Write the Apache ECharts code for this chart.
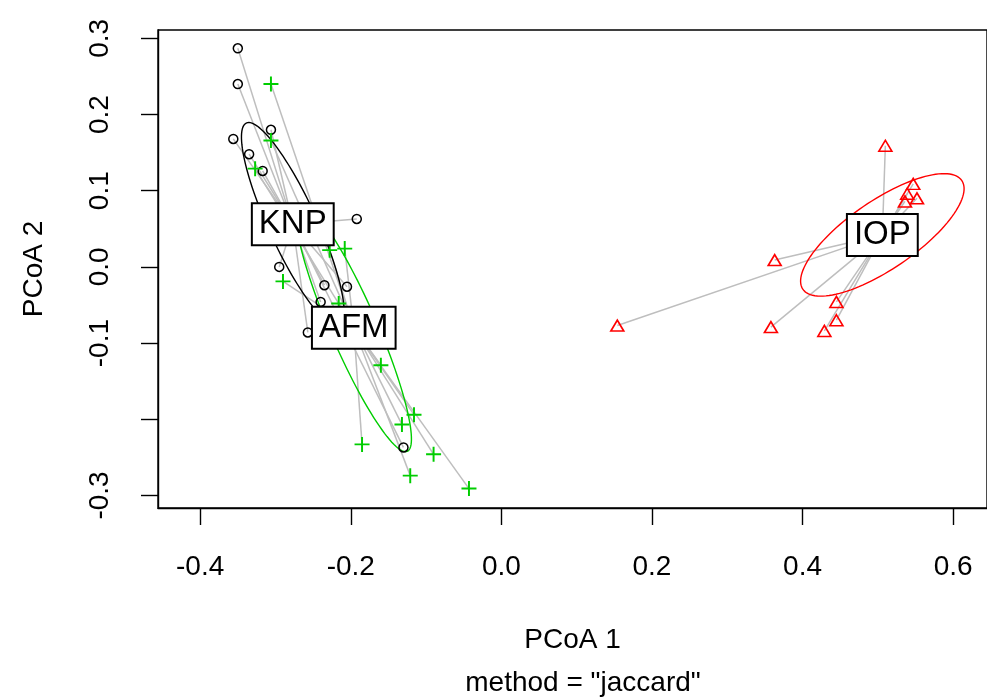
<!DOCTYPE html>
<html>
<head>
<meta charset="utf-8">
<script src="https://cdn.jsdelivr.net/npm/echarts@6/dist/echarts.min.js"></script>
<style>
  html, body { margin: 0; padding: 0; background: #fff; }
  #chart { width: 987px; height: 698px; }
</style>
</head>
<body>
<div id="chart"></div>
<script>
// PCoA scores, per group
const knpX = [-0.350, -0.350, -0.306, -0.356, -0.335, -0.317, -0.192, -0.295, -0.235, -0.205, -0.240, -0.257, -0.130]
const knpY = [0.287, 0.240, 0.180, 0.168, 0.148, 0.126, 0.063, 0.000, -0.024, -0.026, -0.046, -0.086, -0.237]
const afmX = [-0.306, -0.306, -0.327, -0.208, -0.228, -0.290, -0.216, -0.160, -0.116, -0.132, -0.185, -0.090, -0.121, -0.043]
const afmY = [0.240, 0.166, 0.129, 0.024, 0.022, -0.019, -0.048, -0.129, -0.194, -0.207, -0.233, -0.246, -0.274, -0.291]
const iopX = [0.510, 0.547, 0.539, 0.552, 0.536, 0.363, 0.445, 0.445, 0.429, 0.358, 0.154]
const iopY = [0.159, 0.109, 0.096, 0.090, 0.086, 0.009, -0.046, -0.070, -0.084, -0.079, -0.077]

// group centroids (where the labels sit)
const groups = ['KNP', 'AFM', 'IOP']
const centroidX = [-0.277, -0.196, 0.506]
const centroidY = [0.056, -0.080, 0.042]

// standard deviation ellipses: semi-axes and angle (degrees)
const ellipseA = [0.1465, 0.177, 0.1274]
const ellipseB = [0.032, 0.031, 0.045]
const ellipseAngle = [114.9, 113.7, 34]

const xTicks = [-0.4, -0.2, 0.0, 0.2, 0.4, 0.6]
const yTicks = [-0.3, -0.2, -0.1, 0.0, 0.1, 0.2, 0.3]
const yTickLabels = [-0.3, -0.1, 0.0, 0.1, 0.2, 0.3]

const colors = ['#000000', '#00CD00', '#FF0000']
const FONT = 'Liberation Sans, Arial, sans-serif'

const chart = echarts.init(document.getElementById('chart'))

const pts = [
  [knpX, knpY],
  [afmX, afmY],
  [iopX, iopY]
]

function zip(xs, ys) {
  return xs.map((x, i) => [x, ys[i]])
}

// grey spider lines from each site to its centroid
const spiderData = []
pts.forEach(([xs, ys], g) => {
  xs.forEach((x, i) => {
    spiderData.push({ coords: [[x, ys[i]], [centroidX[g], centroidY[g]]] })
  })
})

function ellipseSeries(g) {
  return {
    type: 'custom',
    z: 3,
    clip: true,
    data: [[centroidX[g], centroidY[g], ellipseA[g], ellipseB[g], ellipseAngle[g]]],
    renderItem(params, api) {
      const cx = api.value(0)
      const cy = api.value(1)
      const a = api.value(2)
      const b = api.value(3)
      const phi = (api.value(4) * Math.PI) / 180
      const points = []
      for (let k = 0; k <= 120; k++) {
        const t = (k / 120) * Math.PI * 2
        const ex = cx + a * Math.cos(t) * Math.cos(phi) - b * Math.sin(t) * Math.sin(phi)
        const ey = cy + a * Math.cos(t) * Math.sin(phi) + b * Math.sin(t) * Math.cos(phi)
        points.push(api.coord([ex, ey]))
      }
      return {
        type: 'polyline',
        shape: { points },
        style: { stroke: colors[g], lineWidth: 1.4, fill: null }
      }
    }
  }
}

const plusPath = 'path://M4.35,0h1.3v4.35h4.35v1.3h-4.35v4.35h-1.3v-4.35h-4.35v-1.3h4.35z'
const triPath = 'path://M5,0L10,8.66L0,8.66Z'

chart.setOption({
  animation: false,
  textStyle: { fontFamily: FONT },
  grid: {
    left: 158,
    top: 30,
    width: 837,
    height: 478,
    show: true,
    borderColor: '#000',
    borderWidth: 1.4,
    containLabel: false
  },
  title: {
    text: 'method = "jaccard"',
    left: 578,
    top: 664,
    textAlign: 'center',
    textStyle: { fontFamily: FONT, fontSize: 28, fontWeight: 'normal', color: '#000' }
  },
  xAxis: {
    type: 'value',
    min: -0.456,
    max: 0.645,
    name: 'PCoA 1',
    nameLocation: 'middle',
    nameGap: 118,
    nameTextStyle: { fontFamily: FONT, fontSize: 28, color: '#000' },
    axisLine: { show: true, onZero: false, lineStyle: { color: '#000', width: 1.4 } },
    axisTick: { show: true, length: 17, customValues: xTicks, lineStyle: { color: '#000', width: 1.4 } },
    axisLabel: {
      customValues: xTicks,
      margin: 45,
      fontSize: 28,
      color: '#000',
      formatter: (v) => v.toFixed(1)
    },
    splitLine: { show: false }
  },
  yAxis: {
    type: 'value',
    min: -0.3165,
    max: 0.311,
    name: 'PCoA 2',
    nameLocation: 'middle',
    nameGap: 110,
    nameTextStyle: { fontFamily: FONT, fontSize: 28, color: '#000' },
    axisLine: { show: true, onZero: false, lineStyle: { color: '#000', width: 1.4 } },
    axisTick: { show: true, length: 17, customValues: yTicks, lineStyle: { color: '#000', width: 1.4 } },
    axisLabel: {
      customValues: yTickLabels,
      rotate: 90,
      margin: 44,
      fontSize: 28,
      color: '#000',
      formatter: (v) => v.toFixed(1)
    },
    splitLine: { show: false }
  },
  series: [
    {
      type: 'lines',
      coordinateSystem: 'cartesian2d',
      z: 1,
      silent: true,
      lineStyle: { color: '#BEBEBE', width: 1.5, opacity: 1 },
      data: spiderData
    },
    ellipseSeries(0),
    ellipseSeries(1),
    ellipseSeries(2),
    {
      type: 'scatter',
      name: 'KNP',
      z: 4,
      symbol: 'circle',
      symbolSize: 9,
      itemStyle: { color: 'rgba(0,0,0,0)', borderColor: colors[0], borderWidth: 1.5, opacity: 1 },
      data: zip(knpX, knpY)
    },
    {
      type: 'scatter',
      name: 'AFM',
      z: 4,
      symbol: plusPath,
      symbolSize: 15,
      itemStyle: { color: colors[1], opacity: 1 },
      data: zip(afmX, afmY)
    },
    {
      type: 'scatter',
      name: 'IOP',
      z: 4,
      symbol: triPath,
      symbolSize: [13, 11],
      itemStyle: { color: 'rgba(0,0,0,0)', borderColor: colors[2], borderWidth: 1.6, opacity: 1 },
      data: zip(iopX, iopY)
    },
    {
      type: 'scatter',
      z: 10,
      symbolSize: 1,
      itemStyle: { color: 'rgba(0,0,0,0)', opacity: 1 },
      label: {
        show: true,
        position: 'inside',
        formatter: (p) => p.name,
        fontFamily: FONT,
        fontSize: 33,
        lineHeight: 34,
        color: '#000',
        backgroundColor: '#fff',
        borderColor: '#000',
        borderWidth: 2,
        padding: [3, 6, 3, 6]
      },
      data: groups.map((g, i) => ({ name: g, value: [centroidX[i], centroidY[i]] }))
    }
  ]
})
</script>
</body>
</html>
